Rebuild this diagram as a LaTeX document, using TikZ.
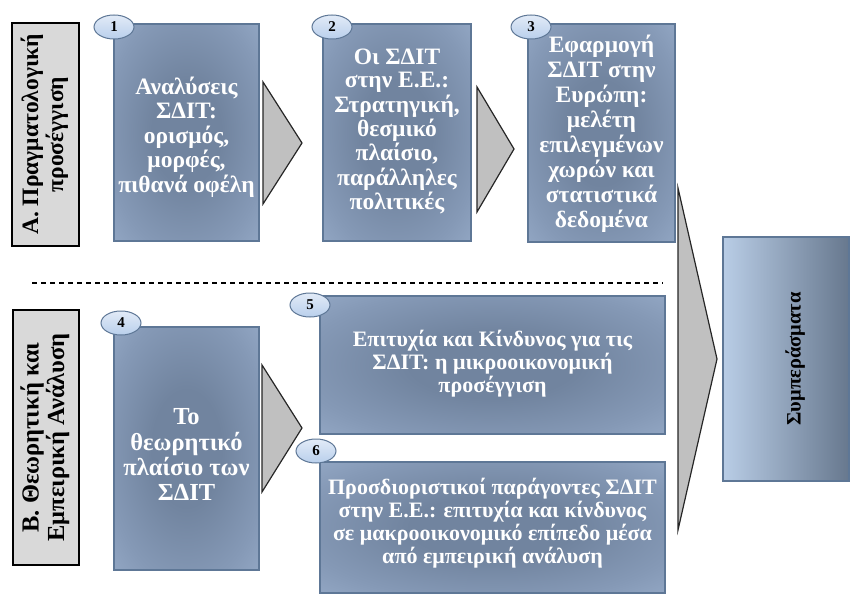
\documentclass[tikz,border=0pt]{standalone}
\usepackage{fontspec}
\setmainfont{Liberation Serif}
\usepackage{graphicx}
\usetikzlibrary{shapes.geometric}

\definecolor{boxedge}{HTML}{5E7796}
\definecolor{boxmid}{HTML}{71849F}
\definecolor{boxhalf}{HTML}{8599B6}
\definecolor{boxrim}{HTML}{A6BBD8}
\definecolor{tagfill}{HTML}{B9CFEC}
\definecolor{tagtop}{HTML}{E2EBF7}
\definecolor{chevfill}{HTML}{C0C0C0}
\definecolor{chevedge}{HTML}{262626}
\definecolor{labelfill}{HTML}{D9D9D9}
\definecolor{endleft}{HTML}{B9CDE6}
\definecolor{endright}{HTML}{67788E}

% soft darker centre for the blue blocks
\pgfdeclareradialshading{blockglow}{\pgfpoint{0bp}{0bp}}{%
  color(0bp)=(boxmid); color(12bp)=(boxmid); color(28bp)=(boxhalf);
  color(48bp)=(boxrim); color(70bp)=(boxrim)}

% centred lines of bold text: size, line distance, lines
\newcommand{\blocktext}[3]{{\fontsize{#1}{#2}\selectfont\bfseries
  \begin{tabular}{@{}c@{}}#3\end{tabular}}}
% move a centred text down (extra height) or up (extra depth)
\newcommand{\sinktext}[2]{\raisebox{0pt}[\dimexpr\height+#1\relax][\depth]{#2}}
\newcommand{\lifttext}[2]{\raisebox{0pt}[\height][\dimexpr\depth+#1\relax]{#2}}

\tikzset{
  block/.style={draw=boxedge, line width=1.2pt, shading=blockglow,
    text=white, inner sep=0pt, rectangle},
  tag/.style={ellipse, draw=boxedge, line width=1pt, top color=tagtop,
    bottom color=tagfill, minimum width=40pt, minimum height=24pt,
    inner sep=0pt, font=\bfseries\fontsize{15}{15}\selectfont},
  chevron/.style={fill=chevfill, draw=chevedge, line width=1.2pt,
    line join=miter},
  sidelabel/.style={draw=black, line width=1.5pt, fill=labelfill,
    rotate=90, inner sep=0pt, text=black},
  endbox/.style={draw=boxedge, line width=1.2pt, left color=endleft,
    right color=endright, inner sep=0pt},
}

\begin{document}
\begin{tikzpicture}[x=1pt, y=-1pt]
\useasboundingbox (0,0) rectangle (856,596);

% side labels of the two parts
\node[sidelabel, minimum width=223pt, minimum height=67pt] (labA) at (45.5,134.5)
  {\blocktext{23.5}{25}{Α. Πραγματολογική\\προσέγγιση}};
\node[sidelabel, minimum width=255pt, minimum height=66pt] (labB) at (46,437.5)
  {\blocktext{24.5}{25}{Β. Θεωρητική και\\Εμπειρική Ανάλυση}};

% part A blocks
\node[block, minimum width=145pt, minimum height=217pt] (b1) at (186.5,132.5)
  {\sinktext{12pt}{\blocktext{23.5}{24}{Αναλύσεις\\ΣΔΙΤ:\\ορισμός,\\μορφές,\\πιθανά οφέλη}}};
\node[block, minimum width=148pt, minimum height=217pt] (b2) at (397,132.5)
  {\blocktext{23.5}{23}{Οι ΣΔΙΤ\\στην Ε.Ε.:\\Στρατηγική,\\θεσμικό\\πλαίσιο,\\παράλληλες\\πολιτικές}};
\node[block, minimum width=147pt, minimum height=218pt] (b3) at (601.5,133)
  {\sinktext{4pt}{\blocktext{23.5}{24.8}{Εφαρμογή\\ΣΔΙΤ στην\\Ευρώπη:\\μελέτη\\επιλεγμένων\\χωρών και\\στατιστικά\\δεδομένα}}};

% part B blocks
\node[block, minimum width=145pt, minimum height=243pt] (b4) at (186.5,448.5)
  {\sinktext{18pt}{\blocktext{24.5}{25}{Το\\θεωρητικό\\πλαίσιο των\\ΣΔΙΤ}}};
\node[block, minimum width=345pt, minimum height=138pt] (b5) at (492.5,365)
  {\blocktext{22}{23}{Επιτυχία και Κίνδυνος για τις\\ΣΔΙΤ: η μικροοικονομική\\προσέγγιση}};
\node[block, minimum width=345pt, minimum height=131pt] (b6) at (492.5,527.5)
  {\lifttext{6pt}{\blocktext{22}{22.5}{Προσδιοριστικοί παράγοντες ΣΔΙΤ\\στην Ε.Ε.: επιτυχία και κίνδυνος\\σε μακροοικονομικό επίπεδο μέσα\\από εμπειρική ανάλυση}}};

% conclusions
\node[endbox, minimum width=126pt, minimum height=244pt] (end) at (786,359) {};
\node[rotate=90, inner sep=0pt] (endtext) at ([xshift=10pt]end.center)
  {\blocktext{20.5}{20}{Συμπεράσματα}};

% numbered tags on the block corners
\node[tag] (t1) at (114,27) {1};
\node[tag] (t2) at (332,27) {2};
\node[tag] (t3) at (531,27) {3};
\node[tag] (t4) at (121,323) {4};
\node[tag] (t5) at (310,305) {5};
\node[tag] (t6) at (316,451) {6};

% chevrons between the blocks
\draw[chevron] (263,82) -- (302,143) -- (263,204) -- cycle;
\draw[chevron] (477,87) -- (514,149) -- (477,212) -- cycle;
\draw[chevron] (262,365) -- (302,428) -- (262,492) -- cycle;
\draw[chevron] (678,188) -- (717,359) -- (678,530) -- cycle;

% divider between the two parts
\coordinate (divL) at (32,283);
\coordinate (divR) at (663,283);
\draw[line width=1.2pt, dash pattern=on 5pt off 4pt] (divL) -- (divR);
\end{tikzpicture}
\end{document}
